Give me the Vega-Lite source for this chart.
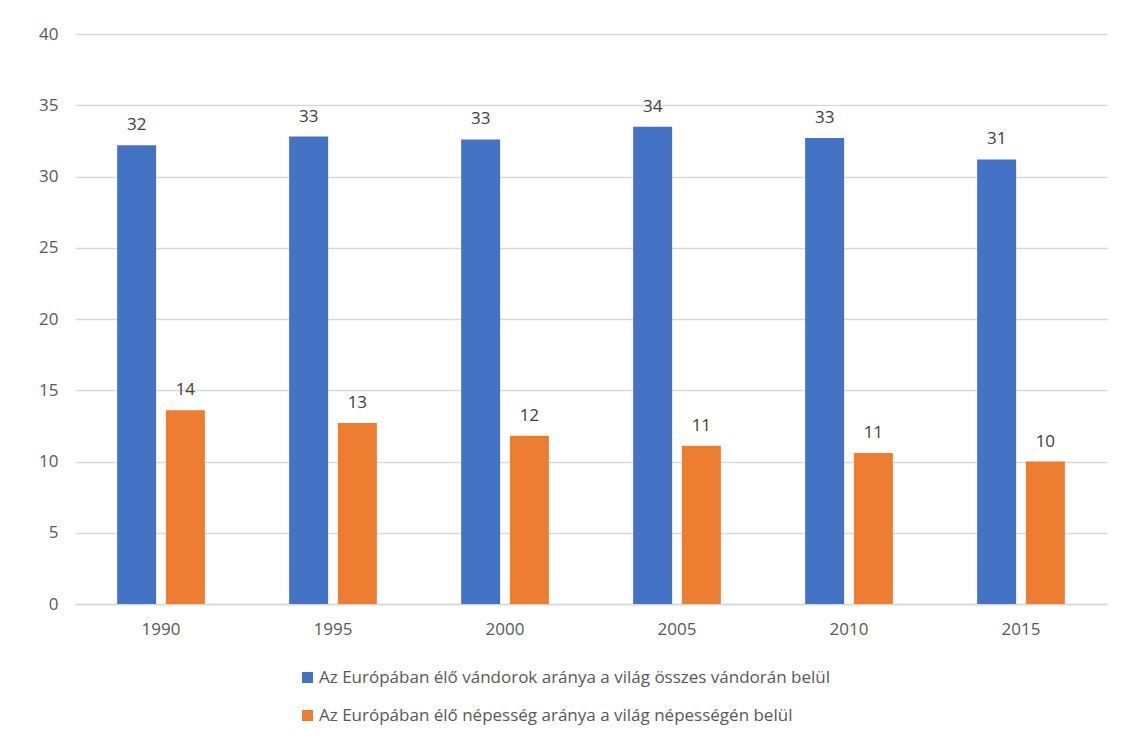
{
  "$schema": "https://vega.github.io/schema/vega-lite/v6.json",
  "width": 1032,
  "height": 570,
  "autosize": {"type": "none"},
  "padding": {"left": 75, "top": 34, "right": 18, "bottom": 134},
  "background": "white",
  "config": {
    "view": {"stroke": null},
    "font": "Open Sans",
    "axis": {"labelColor": "#595959", "labelFontSize": 17, "labelFont": "Open Sans"}
  },
  "data": {
    "values": [
      {"year": "1990", "series": "Az Európában élő vándorok aránya a világ összes vándorán belül", "value": 32.2},
      {"year": "1995", "series": "Az Európában élő vándorok aránya a világ összes vándorán belül", "value": 32.8},
      {"year": "2000", "series": "Az Európában élő vándorok aránya a világ összes vándorán belül", "value": 32.6},
      {"year": "2005", "series": "Az Európában élő vándorok aránya a világ összes vándorán belül", "value": 33.5},
      {"year": "2010", "series": "Az Európában élő vándorok aránya a világ összes vándorán belül", "value": 32.7},
      {"year": "2015", "series": "Az Európában élő vándorok aránya a világ összes vándorán belül", "value": 31.2},
      {"year": "1990", "series": "Az Európában élő népesség aránya a világ népességén belül", "value": 13.6},
      {"year": "1995", "series": "Az Európában élő népesség aránya a világ népességén belül", "value": 12.7},
      {"year": "2000", "series": "Az Európában élő népesség aránya a világ népességén belül", "value": 11.8},
      {"year": "2005", "series": "Az Európában élő népesség aránya a világ népességén belül", "value": 11.1},
      {"year": "2010", "series": "Az Európában élő népesség aránya a világ népességén belül", "value": 10.6},
      {"year": "2015", "series": "Az Európában élő népesség aránya a világ népességén belül", "value": 10.0}
    ]
  },
  "encoding": {
    "x": {
      "field": "year", "type": "nominal",
      "scale": {"paddingInner": 0.49, "paddingOuter": 0.245},
      "axis": {"title": null, "labelAngle": 0, "ticks": false, "domainColor": "#d9d9d9", "domainWidth": 1.5, "labelPadding": 17, "grid": false}
    },
    "xOffset": {
      "field": "series", "type": "nominal",
      "sort": ["Az Európában élő vándorok aránya a világ összes vándorán belül", "Az Európában élő népesség aránya a világ népességén belül"],
      "scale": {"paddingInner": 0.2, "paddingOuter": 0}
    },
    "y": {
      "field": "value", "type": "quantitative",
      "scale": {"domain": [0, 40], "nice": false},
      "axis": {"title": null, "values": [0, 5, 10, 15, 20, 25, 30, 35, 40], "domain": false, "ticks": false, "gridColor": "#d9d9d9", "gridWidth": 1.5, "labelPadding": 17}
    }
  },
  "layer": [
    {
      "mark": {"type": "bar"},
      "encoding": {
        "color": {
          "field": "series", "type": "nominal",
          "sort": ["Az Európában élő vándorok aránya a világ összes vándorán belül", "Az Európában élő népesség aránya a világ népességén belül"],
          "scale": {"range": ["#4472c4", "#ed7d31"]},
          "legend": {
            "title": null, "orient": "none", "legendX": 224, "legendY": 635, "direction": "vertical",
            "symbolType": "square", "symbolSize": 120, "symbolStrokeWidth": 0,
            "labelFontSize": 17, "labelColor": "#595959", "labelFont": "Open Sans",
            "rowPadding": 20, "labelLimit": 900, "symbolOffset": 0, "labelOffset": 3
          }
        }
      }
    },
    {
      "mark": {"type": "text", "baseline": "bottom", "dy": -11, "fontSize": 17, "color": "#404040", "font": "Open Sans"},
      "encoding": {
        "text": {"field": "value", "type": "quantitative", "format": ".0f"}
      }
    }
  ]
}
